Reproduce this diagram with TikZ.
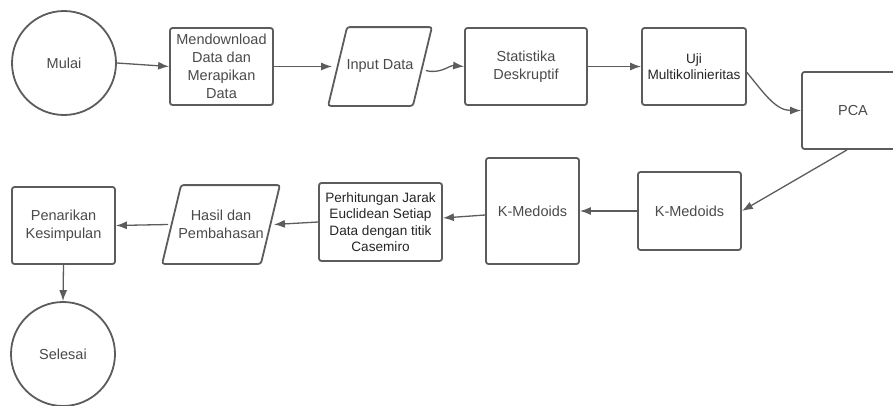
\documentclass[tikz,border=0pt]{standalone}
\usepackage{fontspec}
\setmainfont{Liberation Sans}
\usepackage{tikz}
\usetikzlibrary{arrows.meta}
\definecolor{linegray}{HTML}{5C5C5C}
\definecolor{textgray}{HTML}{4A4A4A}

\begin{document}
\begin{tikzpicture}[x=1pt, y=-1pt,
  box/.style={draw=linegray, line width=1.8pt, rounded corners=2.5pt, text=textgray, align=center, inner sep=2pt, font=\fontsize{14.5}{18}\selectfont},
  darkbox/.style={box, text=black!85, font=\fontsize{13.6}{16.5}\selectfont},
  terminal/.style={circle, draw=linegray, line width=1.8pt, text=textgray, minimum size=104pt, inner sep=0pt, font=\fontsize{14.5}{18}\selectfont},
  io/.style={box, draw=none},
  outline/.style={draw=linegray, line width=1.8pt, rounded corners=2.5pt},
  flow/.style={->, >={Latex[length=11pt,width=8pt]}, draw=linegray, line width=1.3pt}]

\useasboundingbox (0,0) rectangle (893,405);

% Top row
\node[terminal] (mulai) at (64,63) {Mulai};
\node[box, minimum width=103pt, minimum height=77pt] (unduh) at (221.5,66.5) {Mendownload\\Data dan\\Merapikan\\Data};
\node[io, minimum width=102pt, minimum height=77pt] (input) at (380,66.5) {Input Data};
\node[box, minimum width=122pt, minimum height=77pt] (stat) at (526,66.5) {Statistika\\Deskruptif};
\node[darkbox, minimum width=104pt, minimum height=77pt] (uji) at (694,66.5) {Uji\\Multikolinieritas};
\node[box, minimum width=102pt, minimum height=77pt] (pca) at (853,110.5) {PCA};

% Bottom row
\node[box, minimum width=103pt, minimum height=78pt] (kmed) at (689.5,211) {K-Medoids};
\node[box, minimum width=93pt, minimum height=106pt] (kmedb) at (532.5,211) {K-Medoids};
\node[darkbox, minimum width=123pt, minimum height=78pt] (jarak) at (380.5,222) {Perhitungan Jarak\\Euclidean Setiap\\Data dengan titik\\Casemiro};
\node[io, minimum width=116pt, minimum height=77pt] (hasil) at (221,224.5) {Hasil dan\\Pembahasan};
\node[box, minimum width=103pt, minimum height=77pt] (tarik) at (63.5,225.5) {Penarikan\\Kesimpulan};
\node[terminal] (selesai) at (63,354) {Selesai};

% Slanted outlines of the data nodes
\foreach \n in {input,hasil}
  \draw[outline] ([xshift=19pt]\n.north west) -- (\n.north east) -- ([xshift=-19pt]\n.south east) -- (\n.south west) -- cycle;

% Connectors
\draw[flow] (mulai.east) -- (unduh.west);
\draw[flow] (unduh.east) -- ([xshift=4pt]input.west);
\draw[flow] ([xshift=-6pt,yshift=-4pt]input.east) to[out=-15,in=175] (stat.west);
\draw[flow] (stat.east) -- (uji.west);
\draw[flow] ([yshift=-6pt]uji.east) to[out=-50,in=180] (pca.west);
\draw[flow] ([xshift=-6pt]pca.south) -- (kmed.east);
\draw[flow] (kmed.west) -- (kmedb.east);
\draw[flow] ([yshift=-4pt]kmedb.west) -- ([yshift=4pt]jarak.east);
\draw[flow] (jarak.west) -- ([xshift=-6pt]hasil.east);
\draw[flow] ([xshift=6pt]hasil.west) -- (tarik.east);
\draw[flow] (tarik.south) -- (selesai.north);

\end{tikzpicture}
\end{document}
